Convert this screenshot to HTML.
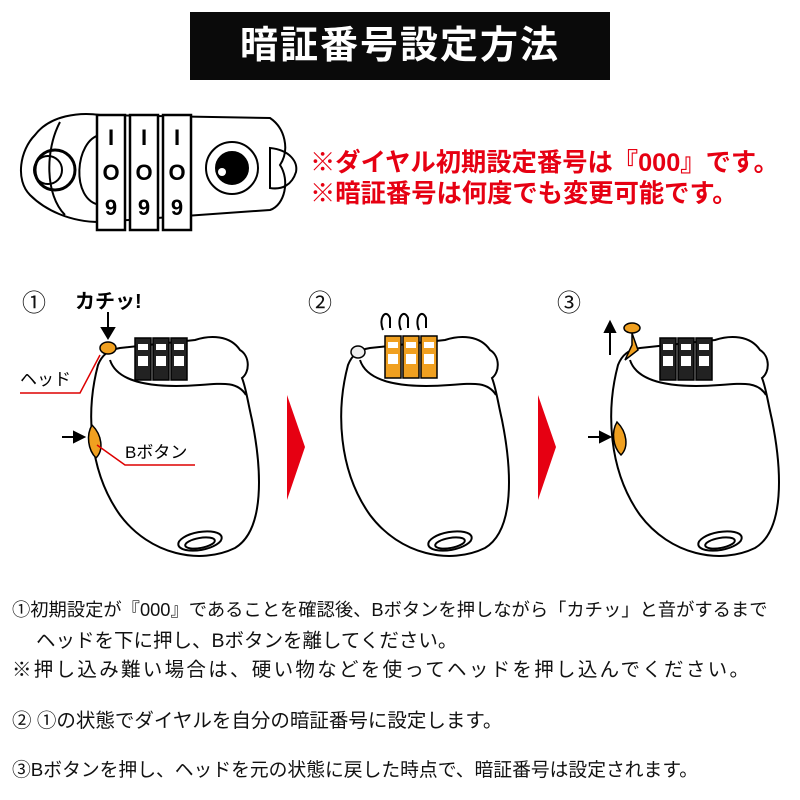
<!DOCTYPE html>
<html><head><meta charset="utf-8"><style>
body{margin:0;width:800px;height:800px;background:#fff;overflow:hidden;position:relative;font-family:"Liberation Sans","Noto Sans CJK JP",sans-serif}
.t{position:absolute;left:190px;top:12px;width:420px;height:68px;background:#0a0a0a;color:#fff;font-size:38px;font-weight:bold;text-align:center;line-height:68px;letter-spacing:2px}
.r{position:absolute;left:310px;color:#e60012;font-size:25.3px;font-weight:bold;white-space:nowrap}
.p{position:absolute;left:12px;font-size:19.5px;color:#111;white-space:nowrap}
</style></head><body>
<div class="t">暗証番号設定方法</div>
<div class="r" style="top:143px">※ダイヤル初期設定番号は『000』です。</div>
<div class="r" style="top:174px">※暗証番号は何度でも変更可能です。</div>
<svg width="800" height="800" style="position:absolute;left:0;top:0" xmlns="http://www.w3.org/2000/svg">
<defs>
<g id="lock" fill="none" stroke="#000" stroke-width="2">
<path d="M98,365 C86,410 88,470 120,515 C150,555 200,565 235,548 C265,530 262,470 252,420 C247,398 246,388 242,378 C250,372 250,356 240,350 C230,335 210,335 195,340 L120,348 C108,350 102,355 98,365 Z" fill="#fff"/>
<path d="M110,360 C118,385 160,388 200,385 C225,383 238,382 246,395"/>
<ellipse cx="200" cy="541" rx="22" ry="9" transform="rotate(-10 200 541)"/>
<ellipse cx="200" cy="543" rx="15" ry="5" transform="rotate(-10 200 543)"/>
</g>
<g id="dial" stroke="#000" stroke-width="1.5">
<rect x="0" y="0" width="16" height="42"/><rect x="18" y="0" width="16" height="42"/><rect x="36" y="0" width="16" height="42"/>
<g fill="#fff" stroke="none"><rect x="3" y="6" width="10" height="6"/><rect x="21" y="6" width="10" height="6"/><rect x="39" y="6" width="10" height="6"/>
<rect x="3" y="18" width="10" height="10"/><rect x="21" y="18" width="10" height="10"/><rect x="39" y="18" width="10" height="10"/></g>
</g>
</defs>
<g fill="none" stroke="#000" stroke-width="2">
<path d="M35,135 C50,115 80,112 100,115 L270,118 C285,128 290,150 280,165 C290,180 285,205 270,210 L100,222 C70,222 45,210 30,195 C15,180 20,150 35,135 Z"/>
<path d="M60,122 C45,150 45,195 65,215"/><path d="M100,135 C75,140 70,200 100,205"/>
<circle cx="55" cy="170" r="20" stroke-width="3"/><circle cx="48" cy="170" r="14"/>
<circle cx="232" cy="168" r="26"/><circle cx="232" cy="168" r="16" fill="#000"/><circle cx="222" cy="172" r="4" fill="#fff" stroke="none"/>
<path d="M270,148 C290,150 298,162 296,172 C292,185 282,190 270,188 Z"/>
</g>
<g stroke="#000" stroke-width="2.5" fill="#fff">
<rect x="97" y="115" width="28" height="115"/><rect x="130" y="115" width="28" height="115"/><rect x="163" y="115" width="28" height="115"/>
</g>
<g font-size="22" font-weight="bold" text-anchor="middle" font-family="Liberation Sans">
<text x="111" y="145">I</text><text x="144" y="145">I</text><text x="177" y="145">I</text>
<text x="111" y="180">O</text><text x="144" y="180">O</text><text x="177" y="180">O</text>
<text x="111" y="215">9</text><text x="144" y="215">9</text><text x="177" y="215">9</text>
</g>
<use href="#lock"/><use href="#lock" x="250"/><use href="#lock" x="520"/>
<use href="#dial" x="135" y="338" fill="#222"/>
<use href="#dial" x="385" y="336" fill="#f0a020"/>
<use href="#dial" x="660" y="338" fill="#222"/>
<ellipse cx="108" cy="348" rx="8" ry="6" fill="#f0a020" stroke="#000" stroke-width="1.5"/>
<ellipse cx="358" cy="352" rx="7" ry="6" fill="#eee" stroke="#000" stroke-width="1.5"/>
<ellipse cx="632" cy="328" rx="8" ry="5" fill="#f0a020" stroke="#000" stroke-width="1.5"/>
<path d="M632,333 V345 L625,360 L638,350 Z" fill="#f0a020" stroke="#000" stroke-width="1.5"/>
<path d="M92,425 C102,435 104,450 96,458 C88,450 86,435 92,425 Z" fill="#f0a020" stroke="#000" stroke-width="1.5"/>
<path d="M617,422 C627,432 629,447 621,455 C613,447 611,432 617,422 Z" fill="#f0a020" stroke="#000" stroke-width="1.5"/>
<g stroke="#000" stroke-width="2" fill="#000">
<line x1="108" y1="312" x2="108" y2="330"/><path d="M102,328 L108,338 L114,328 Z"/>
<line x1="62" y1="437" x2="76" y2="437"/><path d="M74,432 L84,437 L74,442 Z"/>
<line x1="588" y1="437" x2="602" y2="437"/><path d="M600,432 L610,437 L600,442 Z"/>
<line x1="610" y1="355" x2="610" y2="330"/><path d="M605,332 L610,322 L615,332 Z"/>
<path d="M383,330 C378,318 386,308 390,318 L390,328" fill="none"/><path d="M401,330 C396,318 404,308 408,318 L408,328" fill="none"/><path d="M419,330 C414,318 422,308 426,318 L426,328" fill="none"/>
</g>
<g stroke="#d00" stroke-width="1.5" fill="none">
<polyline points="20,393 80,393 100,355"/><polyline points="97,445 125,465 195,465"/>
</g>
<path d="M287,395 L305,447 L287,500 Z" fill="#e60012"/>
<path d="M538,395 L556,447 L538,500 Z" fill="#e60012"/>
<g font-size="24" fill="#111"><text x="22" y="311">①</text><text x="308" y="311">②</text><text x="557" y="311">③</text></g>
<text x="75" y="308" font-size="20" font-weight="bold">カチッ!</text>
<text x="20" y="385" font-size="17">ヘッド</text>
<text x="125" y="458" font-size="17">Bボタン</text>
</svg>
<div class="p" style="top:596px;font-size:18.3px">①初期設定が『000』であることを確認後、Bボタンを押しながら「カチッ」と音がするまで</div>
<div class="p" style="top:624px;left:36px">ヘッドを下に押し、Bボタンを離してください。</div>
<div class="p" style="top:653px;letter-spacing:2.3px">※押し込み難い場合は、硬い物などを使ってヘッドを押し込んでください。</div>
<div class="p" style="top:704px">② ①の状態でダイヤルを自分の暗証番号に設定します。</div>
<div class="p" style="top:755px;font-size:18.8px">③Bボタンを押し、ヘッドを元の状態に戻した時点で、暗証番号は設定されます。</div>
</body></html>
